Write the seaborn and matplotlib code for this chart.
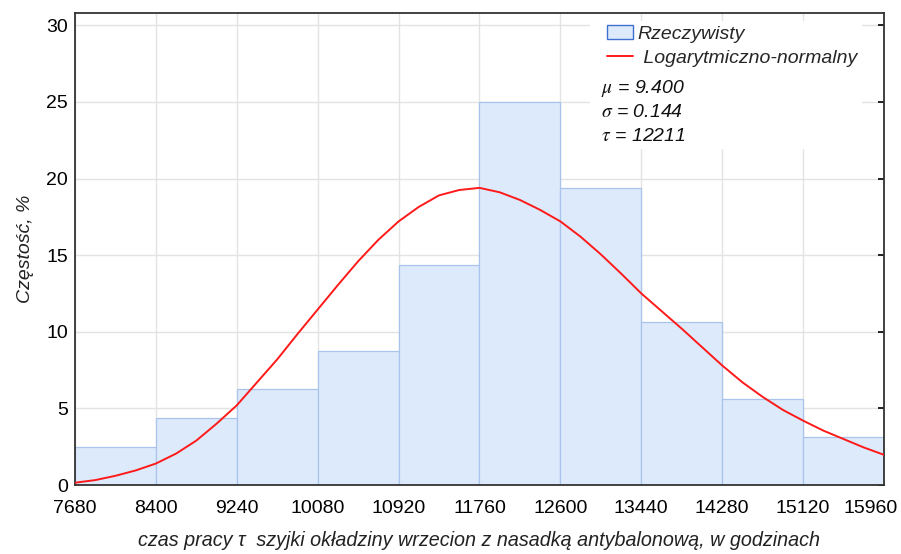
import matplotlib
matplotlib.use("Agg")
import matplotlib.pyplot as plt
import matplotlib.transforms as mtransforms
import seaborn as sns
import pandas as pd
from matplotlib.patches import Rectangle, Patch
from matplotlib.lines import Line2D

# ---- data ----
bin_edges = [7560, 8400, 9240, 10080, 10920, 11760, 12600, 13440, 14280, 15120, 15960]
tick_labels = ["7680", "8400", "9240", "10080", "10920", "11760", "12600",
               "13440", "14280", "15120", "15960"]
bar_percent = [2.5, 4.375, 6.25, 8.75, 14.375, 25.0, 19.375, 10.625, 5.625, 3.125]

# red curve, values every 210 h
curve_x = [7560, 7770, 7980, 8190, 8400, 8610, 8820, 9030, 9240, 9450, 9660,
           9870, 10080, 10290, 10500, 10710, 10920, 11130, 11340, 11550, 11760,
           11970, 12180, 12390, 12600, 12810, 13020, 13230, 13440, 13650, 13860,
           14070, 14280, 14490, 14700, 14910, 15120, 15330, 15540, 15750, 15960]
curve_y = [0.15, 0.32, 0.6, 0.95, 1.4, 2.05, 2.9, 4.0, 5.2, 6.7, 8.2,
           9.85, 11.45, 13.05, 14.6, 16.0, 17.2, 18.15, 18.9, 19.25, 19.39,
           19.1, 18.6, 17.95, 17.2, 16.2, 15.05, 13.8, 12.5, 11.35, 10.2,
           9.0, 7.8, 6.7, 5.75, 4.9, 4.2, 3.55, 3.0, 2.45, 1.97]

stats_lines = [r"$\mu$ = 9.400", r"$\sigma$ = 0.144", r"$\tau$ = 12211"]
y_ticks = [0, 5, 10, 15, 20, 25, 30]

# ---- style ----
sns.set_theme(style="white")
plt.rcParams["font.family"] = ["Liberation Sans", "DejaVu Sans"]
plt.rcParams["mathtext.fontset"] = "stix"

fig = plt.figure(figsize=(9.01, 5.54), dpi=100)
ax = fig.add_axes([75/901, 1-485/554, 809/901, 472/554])

centers = [(a + b) / 2 for a, b in zip(bin_edges[:-1], bin_edges[1:])]
df = pd.DataFrame({"x": centers, "w": bar_percent})
sns.histplot(data=df, x="x", weights="w", bins=bin_edges, ax=ax,
             color="#ddeafb", edgecolor="#a9c3ec", linewidth=0.9, alpha=1.0,
             zorder=2)

cdf = pd.DataFrame({"x": curve_x, "y": curve_y})
sns.lineplot(data=cdf, x="x", y="y", ax=ax, color="#ff1a1a", linewidth=1.4,
             zorder=4)

ax.set_xlim(bin_edges[0], bin_edges[-1])
ax.set_ylim(0, 30.8)
ax.set_xticks(bin_edges)
ax.set_xticklabels(tick_labels)
ax.set_yticks(y_ticks)
ax.grid(True, color="#e3e3e3", linewidth=1.0, zorder=0)
ax.set_axisbelow(True)
ax.tick_params(axis="both", direction="in", length=4, width=1.2, labelsize=14,
               colors="black")
ax.tick_params(axis="x", pad=11)
ax.tick_params(axis="y", pad=5, right=True, labelright=False)
for sp in ax.spines.values():
    sp.set_visible(True)
    sp.set_color("#333333")
    sp.set_linewidth(1.3)

# shift last x tick label left so it fits (as in the reference)
last = ax.get_xticklabels()[-1]
last.set_transform(last.get_transform() +
                   mtransforms.ScaledTranslation(-13/100, 0, fig.dpi_scale_trans))

ax.set_xlabel("czas pracy τ  szyjki okładziny wrzecion z nasadką antybalonową, w godzinach",
              fontsize=14.2, style="italic", labelpad=10, color="#222222")
ax.set_ylabel("Częstość, %", fontsize=14, style="italic", labelpad=9, color="#222222")

# legend area (white box)
ax.add_patch(Rectangle((0.637, 0.712), 0.336, 0.27, transform=ax.transAxes,
                       facecolor="white", edgecolor="none", zorder=5))
handles = [Patch(facecolor="#ddeafb", edgecolor="#3f6fd0", linewidth=1.0),
           Line2D([0], [0], color="#ff1a1a", linewidth=1.4)]
leg = ax.legend(handles, ["Rzeczywisty", " Logarytmiczno-normalny"],
                loc="upper left", bbox_to_anchor=(0.653, 0.983), frameon=False,
                prop={"style": "italic", "size": 14}, handlelength=1.35,
                handleheight=0.75, handletextpad=0.22, labelspacing=0.3,
                borderaxespad=0, borderpad=0.2)
leg.set_zorder(6)

ys = [0.841, 0.790, 0.739]
for t, yy in zip(stats_lines, ys):
    ax.text(0.650, yy, t, transform=ax.transAxes, fontsize=14, style="italic",
            va="center", ha="left", zorder=7, color="#111111")

fig.savefig("out.png", dpi=100)
